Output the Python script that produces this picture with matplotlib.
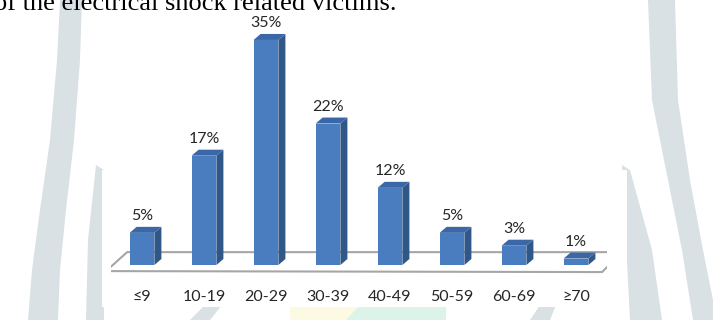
import matplotlib
matplotlib.use('Agg')
import matplotlib.pyplot as plt
from matplotlib.patches import Polygon, Rectangle

# Age groups and share of electrical shock victims (%)
age_groups = ['≤9', '10-19', '20-29', '30-39', '40-49', '50-59', '60-69', '≥70']
percent = [5, 17, 35, 22, 12, 5, 3, 1]

W, H = 713, 320
fig = plt.figure(figsize=(W / 100, H / 100), dpi=100)

# background layer in pixel coordinates (page watermark + heading)
bg = fig.add_axes([0, 0, 1, 1], zorder=0)
bg.set_xlim(0, W)
bg.set_ylim(H, 0)
bg.axis('off')

wm = '#d9e1e5'
bands = [
    [(60, 0), (82, 0), (80, 60), (74, 140), (66, 210), (60, 270), (58, 320),
     (28, 320), (32, 270), (40, 210), (50, 140), (57, 60)],
    [(96, 165), (104, 170), (104, 320), (86, 320), (88, 240)],
    [(648, 0), (675, 0), (678, 100), (690, 180), (703, 250), (713, 300), (713, 320),
     (693, 320), (682, 250), (668, 180), (652, 100)],
    [(622, 165), (630, 170), (652, 250), (662, 320), (630, 320)],
    [(190, 320), (205, 305), (222, 305), (210, 320)],
    [(530, 320), (540, 305), (556, 305), (550, 320)],
]
for pts in bands:
    bg.add_patch(Polygon(pts, closed=True, facecolor=wm, edgecolor='none'))
bg.add_patch(Polygon([(290, 307), (358, 307), (346, 320), (290, 320)],
                     facecolor='#fdfae3', edgecolor='none'))
bg.add_patch(Polygon([(358, 307), (446, 307), (446, 320), (346, 320)],
                     facecolor='#dcf3ea', edgecolor='none'))
# white chart plate
bg.add_patch(Rectangle((102, 170), 525, 137, facecolor='white', edgecolor='none'))

bg.text(-6, 10, 'of the electrical shock related victims.', family='Liberation Serif',
        fontsize=19, color='black', va='baseline', ha='left')

# chart layer: x = category index, y = percent
px_per_cat = 62
px_per_pct = 6.43
y_lo, y_hi = -2, 41
left = 111
bottom_px = 265 - y_lo * px_per_pct
top_px = 265 - y_hi * px_per_pct
ax = fig.add_axes([left / W, (H - bottom_px) / H, 8 * px_per_cat / W,
                   (bottom_px - top_px) / H], zorder=1)
ax.set_xlim(-0.5, 7.5)
ax.set_ylim(y_lo, y_hi)
ax.axis('off')
ax.patch.set_alpha(0)

# depth of the fake 3D look, in data units
dx = 7 / px_per_cat
dy = 6 / px_per_pct
bw = 0.4

floor = [(-0.58, -0.95), (7.42, -1.1), (7.74, 2.0), (-0.24, 2.0)]
ax.add_patch(Polygon(floor, closed=True, facecolor='white', edgecolor='#a6a6a6',
                     lw=1.5, zorder=1))

front_c = '#4a7dc0'
side_c = '#2f5788'
top_c = '#3b67a6'
x = list(range(len(percent)))
ax.bar(x, percent, width=bw, color=front_c, zorder=3)
for i, v in zip(x, percent):
    r = i + bw / 2
    l = i - bw / 2
    ax.add_patch(Polygon([(r, 0), (r + dx, dy), (r + dx, v + dy), (r, v)],
                         facecolor=side_c, edgecolor='none', zorder=3))
    ax.add_patch(Polygon([(l, v), (r, v), (r + dx, v + dy), (l + dx, v + dy)],
                         facecolor=top_c, edgecolor='none', zorder=3))
    ax.annotate(f'{v}%', (i, v + dy), xytext=(0, 2.5), textcoords='offset points',
                ha='center', va='bottom', family='Lato', fontsize=11.5, color='#262626')
    ax.text(i, -5.0, age_groups[i], ha='center', va='center', family='Lato',
            fontsize=11.5, color='#262626')

fig.savefig('out.png', dpi=100)
